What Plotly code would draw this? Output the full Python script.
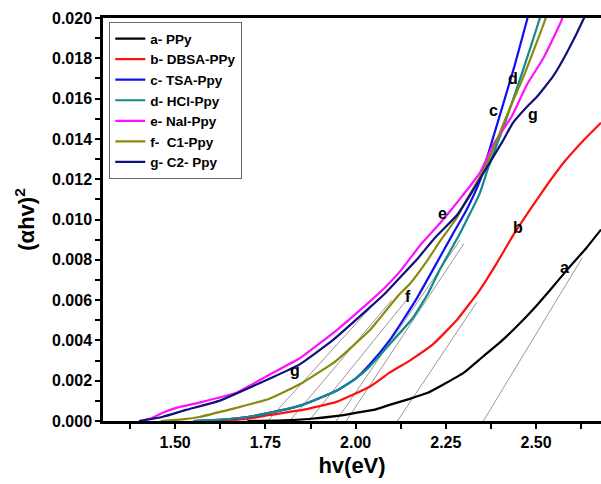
import plotly.graph_objects as go

# ---------------- data ----------------
names = ["a- PPy", "b- DBSA-PPy", "c- TSA-Ppy", "d- HCl-Ppy", "e- NaI-Ppy", "f-\u00a0 C1-Ppy", "g- C2- Ppy"]
colors = ["#000000", "#ff1010", "#1010f0", "#128a8a", "#ff10ff", "#8a8a10", "#10107a"]

a_x = [1.70, 1.80, 1.87, 1.95, 2.00, 2.05, 2.094, 2.15, 2.20, 2.242, 2.30, 2.353, 2.40, 2.447, 2.50, 2.539, 2.586, 2.64, 2.68]
a_y = [0.0, 0.00003, 0.0001, 0.00025, 0.0004, 0.00055, 0.0008, 0.0011, 0.0014, 0.0018, 0.0024, 0.0032, 0.0039, 0.0047, 0.0057, 0.0065, 0.0075, 0.0086, 0.0095]

b_x = [1.62, 1.70, 1.761, 1.853, 1.947, 2.039, 2.094, 2.15, 2.214, 2.28, 2.344, 2.39, 2.436, 2.48, 2.53, 2.58, 2.63, 2.68]
b_y = [0.0, 0.0001, 0.0003, 0.00055, 0.00095, 0.0017, 0.0024, 0.0030, 0.0038, 0.0050, 0.0065, 0.0078, 0.0092, 0.0104, 0.0117, 0.0129, 0.0139, 0.0148]

c_x = [1.55, 1.65, 1.70, 1.761, 1.853, 1.947, 2.00, 2.039, 2.094, 2.131, 2.17, 2.214, 2.27, 2.308, 2.344, 2.39, 2.44, 2.475, 2.48]
c_y = [0.0, 0.0001, 0.0002, 0.0004, 0.0008, 0.0015, 0.0021, 0.0028, 0.0040, 0.0050, 0.0061, 0.0075, 0.0093, 0.0105, 0.0119, 0.0146, 0.0176, 0.0199, 0.0203]

d_x = [1.55, 1.65, 1.70, 1.761, 1.853, 1.947, 2.00, 2.039, 2.094, 2.158, 2.20, 2.233, 2.289, 2.344, 2.368, 2.414, 2.46, 2.509, 2.515]
d_y = [0.0, 0.0001, 0.0002, 0.0004, 0.0008, 0.0015, 0.0021, 0.0027, 0.0038, 0.0051, 0.0063, 0.0075, 0.0093, 0.0113, 0.0126, 0.0148, 0.0172, 0.0199, 0.0203]

e_x = [1.40, 1.436, 1.464, 1.503, 1.575, 1.669, 1.761, 1.844, 1.947, 2.031, 2.08, 2.122, 2.178, 2.233, 2.261, 2.297, 2.344, 2.381, 2.432, 2.475, 2.52, 2.571, 2.577]
e_y = [0.0, 0.00015, 0.0004, 0.00065, 0.00095, 0.0014, 0.0023, 0.0031, 0.0045, 0.0058, 0.0066, 0.0074, 0.0087, 0.0098, 0.0104, 0.0112, 0.0123, 0.0137, 0.0151, 0.0167, 0.0180, 0.0199, 0.0203]

f_x = [1.46, 1.52, 1.567, 1.658, 1.761, 1.853, 1.947, 2.039, 2.058, 2.122, 2.15, 2.20, 2.233, 2.281, 2.308, 2.344, 2.372, 2.42, 2.47, 2.525, 2.531]
f_y = [0.0, 0.00008, 0.0002, 0.0006, 0.0011, 0.0019, 0.0030, 0.0045, 0.0049, 0.0063, 0.0068, 0.0080, 0.0089, 0.0101, 0.0110, 0.0121, 0.0131, 0.0152, 0.0173, 0.0199, 0.0203]

g_x = [1.40, 1.464, 1.53, 1.622, 1.761, 1.844, 1.936, 2.031, 2.08, 2.122, 2.169, 2.22, 2.28, 2.317, 2.364, 2.408, 2.436, 2.475, 2.503, 2.547, 2.586, 2.633, 2.64]
g_y = [0.0, 0.0002, 0.00055, 0.0010, 0.0021, 0.0028, 0.0040, 0.0055, 0.0063, 0.0071, 0.0080, 0.0091, 0.0102, 0.0112, 0.0126, 0.0139, 0.0148, 0.0156, 0.0161, 0.0171, 0.0183, 0.0200, 0.0203]

# tangent (extrapolation) lines: x-intercept and upper end point
tan_x0 = [1.756, 1.817, 1.870, 1.946, 1.974, 2.116, 2.354]
tan_x1 = [2.05, 2.10, 2.15, 2.29, 2.30, 2.336, 2.628]
tan_y1 = [0.0058, 0.0060, 0.0062, 0.0090, 0.0088, 0.0059, 0.0081]

label_text = ["a", "b", "c", "d", "e", "f", "g", "g"]
label_x = [2.578, 2.45, 2.381, 2.436, 2.242, 2.144, 1.831, 2.492]
label_y = [0.0076, 0.0096, 0.0154, 0.0170, 0.0103, 0.0062, 0.0025, 0.0152]

series_x = [a_x, b_x, c_x, d_x, e_x, f_x, g_x]
series_y = [a_y, b_y, c_y, d_y, e_y, f_y, g_y]

# ---------------- figure ----------------
FONT = "Liberation Sans, Arial, sans-serif"
fig = go.Figure()

for x0, x1, y1 in zip(tan_x0, tan_x1, tan_y1):
    fig.add_trace(go.Scatter(x=[x0, x1], y=[0, y1], mode="lines",
                             line=dict(color="#8c8c8c", width=0.9),
                             showlegend=False, hoverinfo="skip"))

for nm, col, xs, ys in zip(names, colors, series_x, series_y):
    fig.add_trace(go.Scatter(x=xs, y=ys, mode="lines", name=nm,
                             line=dict(color=col, width=2.2, shape="spline", smoothing=0.4)))

for t, x, y in zip(label_text, label_x, label_y):
    fig.add_annotation(x=x, y=y, text=t, showarrow=False,
                       font=dict(family=FONT, size=16, color="black", weight="bold"))

fig.update_layout(
    width=601, height=484,
    margin=dict(l=103, r=0, t=18, b=63),
    paper_bgcolor="white", plot_bgcolor="white",
    font=dict(family=FONT, color="black"),
    showlegend=True,
    legend=dict(x=0.012, y=0.99, xanchor="left", yanchor="top",
                bordercolor="#6a6a6a", borderwidth=1.3, bgcolor="white",
                font=dict(family=FONT, size=13.5, color="black", weight="bold"),
                tracegroupgap=0, itemwidth=30),
)

fig.update_xaxes(
    range=[1.30, 2.68], tick0=1.5, dtick=0.25, tickformat=".2f",
    showgrid=False, zeroline=False,
    showline=True, linecolor="black", linewidth=2.5, mirror=True,
    ticks="outside", ticklen=5, tickwidth=2, tickcolor="black",
    minor=dict(dtick=0.125, tick0=1.5, ticks="outside", ticklen=5, tickwidth=2, tickcolor="black", showgrid=False),
    tickfont=dict(family=FONT, size=16, color="black", weight="bold"),
    title=dict(text="hv(eV)", font=dict(family=FONT, size=22, color="black", weight="bold"), standoff=8),
)
fig.update_yaxes(
    range=[0, 0.020], tick0=0, dtick=0.002, tickformat=".3f",
    showgrid=False, zeroline=False,
    showline=True, linecolor="black", linewidth=2.5,
    ticks="outside", ticklen=5, tickwidth=2, tickcolor="black",
    minor=dict(dtick=0.001, ticks="outside", ticklen=5, tickwidth=2, tickcolor="black", showgrid=False),
    tickfont=dict(family=FONT, size=16, color="black", weight="bold"),
    title=dict(text="(\u03b1hv)<sup>2</sup>", font=dict(family=FONT, size=22, color="black", weight="bold"), standoff=12),
)

fig.write_html("out.html")
